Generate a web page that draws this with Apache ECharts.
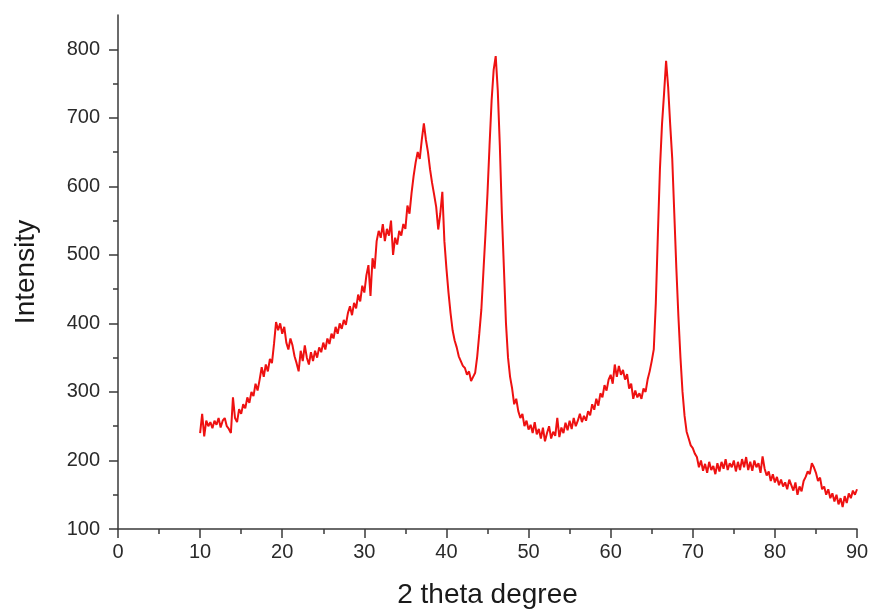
<!DOCTYPE html>
<html>
<head>
<meta charset="utf-8">
<style>html,body{margin:0;padding:0;background:#fff}#c{width:872px;height:610px}</style>
<script src="https://cdn.jsdelivr.net/npm/echarts@6/dist/echarts.min.js"></script>
</head>
<body>
<div id="c"></div>
<script>
// Sampling grid of the scan (degrees 2θ)
const angleStart = 10;
const angleStep = 0.25;
// Intensity, one value per 0.25° from 10° to 90°
const intensity = [
240,268,235,258,250,256,247,258,252,262,248,258,262,250,246,240,
292,262,256,275,268,282,276,292,284,300,294,312,302,318,336,322,
340,330,348,342,370,402,390,400,385,395,372,362,378,368,352,342,
330,360,345,368,350,340,358,345,360,350,365,358,372,362,378,370,
385,378,395,385,400,392,405,398,415,425,412,430,422,442,432,455,
445,470,485,440,495,480,520,535,525,545,520,538,528,550,500,525,
515,535,528,545,538,572,560,590,615,635,650,640,668,692,668,650,
625,605,588,570,537,560,592,520,480,445,415,390,375,365,352,345,
338,335,325,330,316,322,328,352,385,420,475,530,590,660,725,770,
790,740,660,560,480,400,350,322,305,282,290,272,262,268,250,258,
245,252,240,256,238,246,232,248,228,240,250,232,242,236,262,234,
248,240,255,244,258,246,262,250,258,268,256,265,258,272,266,282,
274,290,280,298,292,310,302,318,325,312,340,322,338,325,332,318,
326,305,312,290,302,292,298,290,305,300,318,330,345,362,430,530,
625,690,735,783,745,690,640,560,480,410,350,300,265,242,232,222,
218,210,205,190,200,185,195,182,198,186,192,180,196,184,198,188,
202,186,196,190,200,184,198,186,202,190,205,186,198,185,200,190,
196,182,206,188,178,184,170,180,168,176,164,172,162,168,158,172,
164,156,168,150,162,155,170,176,184,180,196,190,182,170,175,158,
162,150,158,145,152,140,150,136,145,132,148,138,152,145,156,150,
158
];
const xTicks = [0,10,20,30,40,50,60,70,80,90];
const yMajorTicks = [100,200,300,400,500,600,700,800];
const yMinorTicks = [150,250,350,450,550,650,750];

const points = intensity.map((v, i) => [angleStart + i * angleStep, v]);

const font = 'Liberation Sans, Arial, sans-serif';
const axisColor = '#3a3a3a';
const chart = echarts.init(document.getElementById('c'), null, {renderer: 'canvas'});
chart.setOption({
  animation: false,
  backgroundColor: '#ffffff',
  grid: {left: 118, right: 15, top: 15, bottom: 81, containLabel: false, outerBoundsMode: 'none'},
  xAxis: {
    type: 'value', min: 0, max: 90, interval: 10,
    name: '2 theta degree', nameLocation: 'middle', nameGap: 52,
    nameTextStyle: {fontFamily: font, fontSize: 28, color: '#1a1a1a'},
    axisLine: {show: true, onZero: false, lineStyle: {color: axisColor, width: 1.5}},
    axisTick: {show: true, inside: false, length: 9, lineStyle: {color: axisColor, width: 1.5}},
    minorTick: {show: true, splitNumber: 2, length: 5, lineStyle: {color: axisColor, width: 1.5}},
    axisLabel: {fontFamily: font, fontSize: 20, color: '#2a2a2a', margin: 13,
      customValues: xTicks},
    splitLine: {show: false}
  },
  yAxis: [{
    type: 'value', min: 100, max: 850,
    name: 'Intensity', nameLocation: 'middle', nameGap: 78, nameRotate: 90,
    nameTextStyle: {fontFamily: font, fontSize: 28, color: '#1a1a1a'},
    axisLine: {show: true, onZero: false, lineStyle: {color: axisColor, width: 1.5}},
    axisTick: {show: true, inside: false, length: 9, lineStyle: {color: axisColor, width: 1.5},
      customValues: yMajorTicks},
    axisLabel: {fontFamily: font, fontSize: 20, color: '#2a2a2a', margin: 18,
      customValues: yMajorTicks},
    splitLine: {show: false}
  }, {
    type: 'value', min: 100, max: 850, position: 'left',
    axisLine: {show: false},
    axisTick: {show: true, inside: false, length: 5, lineStyle: {color: axisColor, width: 1.5},
      customValues: yMinorTicks},
    axisLabel: {show: false},
    splitLine: {show: false}
  }],
  series: [{
    type: 'line', data: points, yAxisIndex: 0,
    showSymbol: false, symbol: 'none',
    lineStyle: {color: '#ee1111', width: 2},
    z: 3
  }]
});
</script>
</body>
</html>
